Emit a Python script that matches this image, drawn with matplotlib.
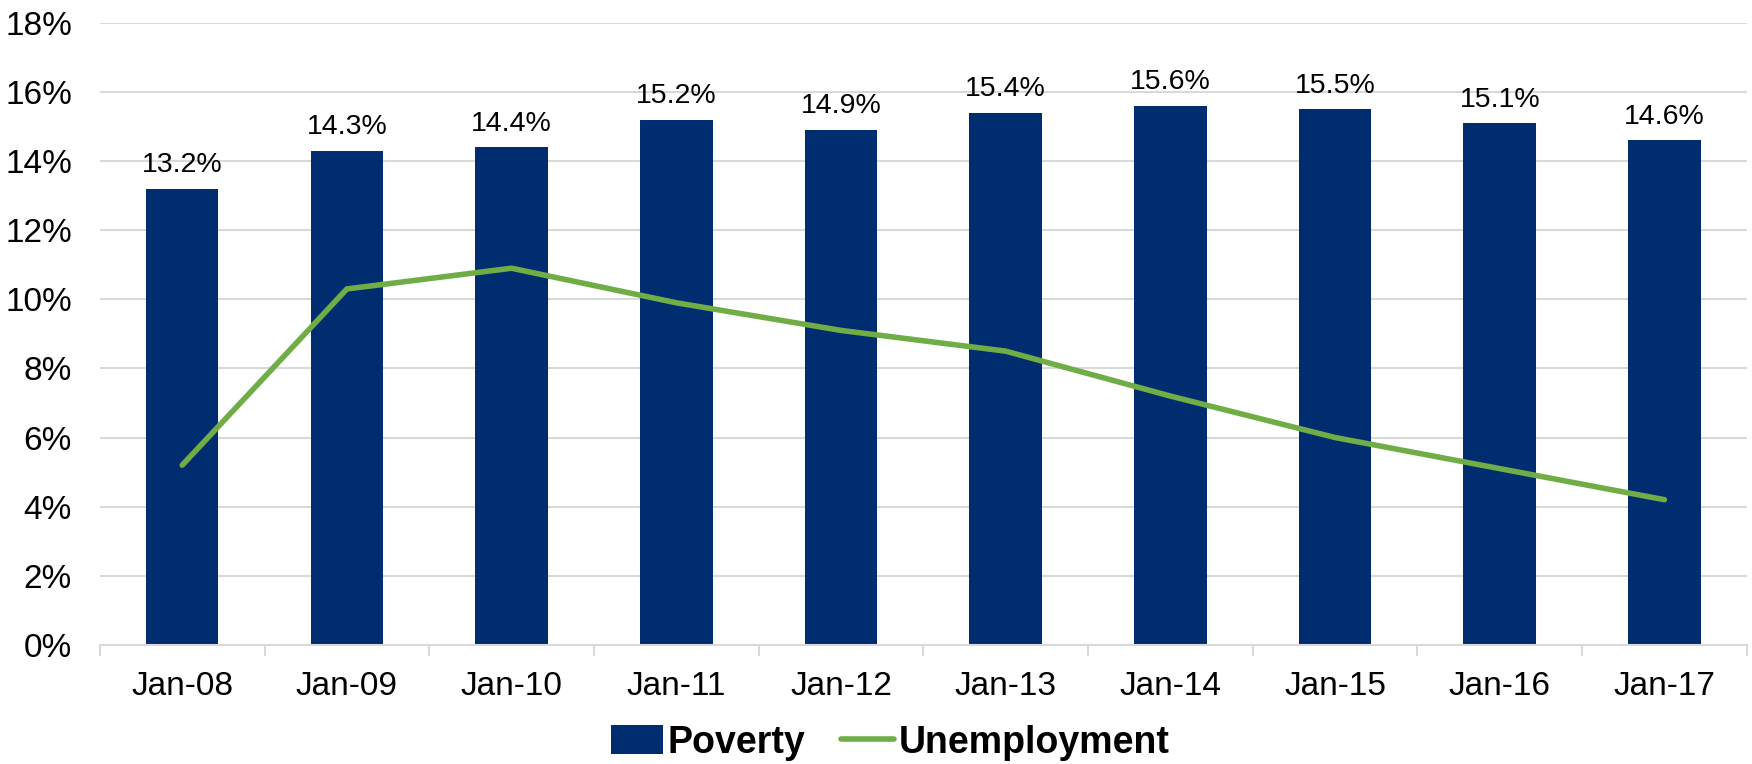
import numpy as np
import matplotlib.pyplot as plt
from matplotlib.ticker import FuncFormatter, FixedLocator

plt.rcParams['font.family'] = ['Liberation Sans', 'DejaVu Sans']

# data
years = ['Jan-08', 'Jan-09', 'Jan-10', 'Jan-11', 'Jan-12',
         'Jan-13', 'Jan-14', 'Jan-15', 'Jan-16', 'Jan-17']
poverty = [13.2, 14.3, 14.4, 15.2, 14.9, 15.4, 15.6, 15.5, 15.1, 14.6]
unemployment = [5.2, 10.3, 10.9, 9.9, 9.1, 8.5, 7.2, 6.0, 5.1, 4.2]

bar_color = '#002D6F'
line_color = '#70AD47'
grid_color = '#D9D9D9'

fig = plt.figure(figsize=(17.52, 7.64), dpi=100)
ax = fig.add_axes([0.057, 0.156, 0.940, 0.814])

x = np.arange(len(years))
bars = ax.bar(x, poverty, width=0.44, color=bar_color, label='Poverty', zorder=2)
line, = ax.plot(x, unemployment, color=line_color, lw=4, solid_capstyle='round',
                label='Unemployment', zorder=3)

for xi, v in zip(x, poverty):
    ax.annotate(f'{v:.1f}%', (xi, v), xytext=(0, 17), textcoords='offset points',
                ha='center', va='center', fontsize=20.5)

ax.set_ylim(0, 18)
ax.set_xlim(-0.5, len(years) - 0.5)
ax.set_yticks(np.arange(0, 19, 2))
ax.yaxis.set_major_formatter(FuncFormatter(lambda v, p: f'{v:.0f}%'))
ax.grid(axis='y', color=grid_color, lw=1.5, zorder=0)
ax.set_axisbelow(True)

ax.set_xticks(x)
ax.set_xticklabels(years)
ax.xaxis.set_minor_locator(FixedLocator(np.arange(-0.5, len(years), 1)))
ax.tick_params(axis='x', which='major', length=0, pad=19, labelsize=24)
ax.tick_params(axis='x', which='minor', length=8, width=1.5, color=grid_color)
ax.tick_params(axis='y', length=0, pad=20, labelsize=24)

for s in ['top', 'right', 'left']:
    ax.spines[s].set_visible(False)
ax.spines['bottom'].set_color(grid_color)
ax.spines['bottom'].set_linewidth(1.5)

fig.legend([bars, line], ['Poverty', 'Unemployment'], loc='center',
           bbox_to_anchor=(0.508, 0.028), ncol=2, frameon=False,
           prop={'weight': 'bold', 'size': 27}, handlelength=1.4,
           handletextpad=0.12, columnspacing=0.95, handleheight=0.8)

fig.savefig('out.png', dpi=100)
